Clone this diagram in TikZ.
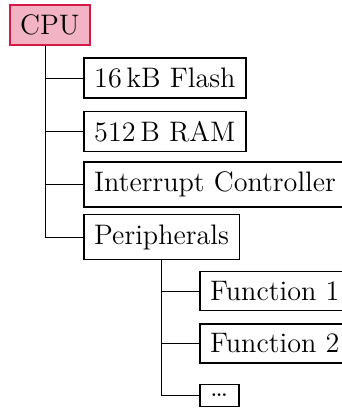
\documentclass[tikz,border=0pt]{standalone}
\definecolor{cpufill}{RGB}{242,180,196}
\definecolor{cpuborder}{RGB}{214,26,72}
\tikzset{
  box/.style={draw, line width=0.8pt, anchor=west, inner xsep=5.2pt, inner ysep=4.9pt,
    font=\fontsize{14.1}{17}\selectfont},
  cpubox/.style={box, draw=cpuborder, fill=cpufill},
  conn/.style={line width=0.5pt}
}
\begin{document}
\begin{tikzpicture}[x=0.5pt,y=-0.5pt]
\useasboundingbox (0,0) rectangle (342,408);
\node[cpubox] (cpu) at (9,25) {CPU};
\node[box] (flash) at (83,78) {16\,kB Flash};
\node[box] (ram) at (83,131.5) {512\,B RAM};
\node[box] (irq) at (83,184.5) {Interrupt Controller};
\node[box] (peri) at (83,237) {Peripherals};
\node[box] (f1) at (199,291) {Function 1};
\node[box] (f2) at (199,343.5) {Function 2};
\node[box] (dots) at (199,395.5) {\dots};
\coordinate (ct) at (45,0);
\coordinate (pt) at (161,0);
\foreach \n in {flash,ram,irq,peri}
  \draw[conn] (cpu.south -| ct) |- (\n.west);
\foreach \n in {f1,f2,dots}
  \draw[conn] (peri.south -| pt) |- (\n.west);
\end{tikzpicture}
\end{document}
